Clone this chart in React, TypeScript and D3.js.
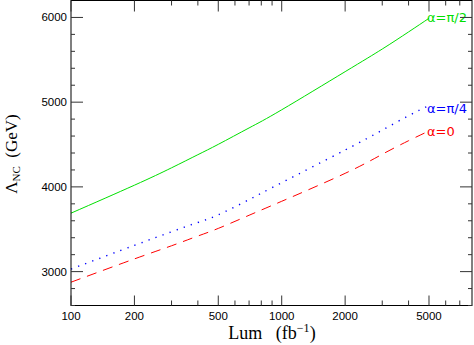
import React from 'react';
import * as d3 from 'd3';

// luminosity points (fb^-1) and Lambda_NC limits (GeV)
const lum = [100, 200, 300, 400, 500, 700, 1000, 2000, 3000, 4000, 5000];
const lambdaPi2 = [3690, 4020, 4225, 4380, 4502, 4696, 4910, 5360, 5627, 5829, 5990];
const lambdaPi4 = [3030, 3310, 3470, 3580, 3670, 3850, 4050, 4435, 4670, 4840, 4960];
const lambda0 = [2875, 3150, 3305, 3420, 3510, 3665, 3830, 4160, 4385, 4545, 4660];

const xMajor = [100, 200, 500, 1000, 2000, 5000];
const xMinor = [300, 400, 600, 700, 800, 900, 3000, 4000, 6000, 7000];
const yMajor = [3000, 4000, 5000, 6000];
const yMinor = [2600, 2800, 3200, 3400, 3600, 3800, 4200, 4400, 4600, 4800, 5200, 5400, 5600, 5800];

const W = 474;
const H = 345;
const left = 71;
const right = 472;
const top = 0.5;
const bottom = 305.5;

const App = () => {
  const x = d3.scaleLog().domain([100, 8000]).range([left, right]);
  const y = d3.scaleLinear().domain([2600, 6200]).range([bottom, top]);

  const line = (vals: number[]) =>
    d3.line<number>()
      .x((_, i) => x(lum[i]))
      .y(d => y(d))
      .curve(d3.curveNatural)(vals) || '';

  const series = [
    { vals: lambdaPi2, color: '#00e000', dash: undefined, label: 'α=π/2', dy: 4 },
    { vals: lambdaPi4, color: '#0000ff', dash: '1.3,6.2', label: 'α=π/4', dy: 7 },
    { vals: lambda0, color: '#ff0000', dash: '10,7', label: 'α=0', dy: 5 },
  ];

  const tickFont = { fontFamily: '"Liberation Sans", Arial, sans-serif', fontSize: 11.5, fill: '#000' };
  const serif = '"Liberation Serif", "Times New Roman", serif';

  return (
    <svg width={W} height={H} style={{ position: 'absolute', left: 0, top: 0, background: '#fff' }}>
      {/* curves */}
      {series.map(s => (
        <path key={s.label} d={line(s.vals)} fill="none" stroke={s.color}
          strokeWidth={s.dash === '1.3,6.2' ? 1.4 : 1} strokeDasharray={s.dash} />
      ))}
      {series.map(s => (
        <text key={s.label + 't'} x={x(5000) - 2} y={y(s.vals[s.vals.length - 1]) + s.dy}
          fill={s.color} fontFamily='"DejaVu Sans", sans-serif' fontSize={13}>{s.label}</text>
      ))}

      {/* frame */}
      <rect x={left} y={top} width={right - left} height={bottom - top} fill="none" stroke="#000" strokeWidth={1} />

      {/* x ticks, bottom and top */}
      {xMajor.map(v => (
        <g key={'xM' + v} stroke="#333">
          <line x1={x(v)} x2={x(v)} y1={bottom} y2={bottom - 10} />
          <line x1={x(v)} x2={x(v)} y1={top} y2={top + 11} />
        </g>
      ))}
      {xMinor.map(v => (
        <g key={'xm' + v} stroke="#333">
          <line x1={x(v)} x2={x(v)} y1={bottom} y2={bottom - 5} />
          <line x1={x(v)} x2={x(v)} y1={top} y2={top + 5} />
        </g>
      ))}
      {xMajor.map(v => (
        <text key={'xl' + v} x={x(v)} y={320} textAnchor="middle" {...tickFont}>{v}</text>
      ))}

      {/* y ticks, left and right */}
      {yMajor.map(v => (
        <g key={'yM' + v} stroke="#333">
          <line x1={left} x2={left + 12} y1={y(v)} y2={y(v)} />
          <line x1={right} x2={right - 12} y1={y(v)} y2={y(v)} />
        </g>
      ))}
      {yMinor.map(v => (
        <g key={'ym' + v} stroke="#333">
          <line x1={left} x2={left + 4} y1={y(v)} y2={y(v)} />
          <line x1={right} x2={right - 4} y1={y(v)} y2={y(v)} />
        </g>
      ))}
      {yMajor.map(v => (
        <text key={'yl' + v} x={67} y={y(v) + 4} textAnchor="end" {...tickFont}>{v}</text>
      ))}

      {/* axis titles */}
      <text x={272} y={339} textAnchor="middle" fontFamily={serif} fontSize={18} style={{ whiteSpace: 'pre' }}>
        {'Lum   (fb'}
        <tspan dy={-7} fontSize={12}>−1</tspan>
        <tspan dy={7}>)</tspan>
      </text>
      <text transform="translate(17,154) rotate(-90)" textAnchor="middle" fontFamily={serif} fontSize={17}
        style={{ whiteSpace: 'pre' }}>
        Λ
        <tspan dy={3} fontSize={11}>NC</tspan>
        <tspan dy={-3}>{'  (GeV)'}</tspan>
      </text>
    </svg>
  );
};

export default App;
